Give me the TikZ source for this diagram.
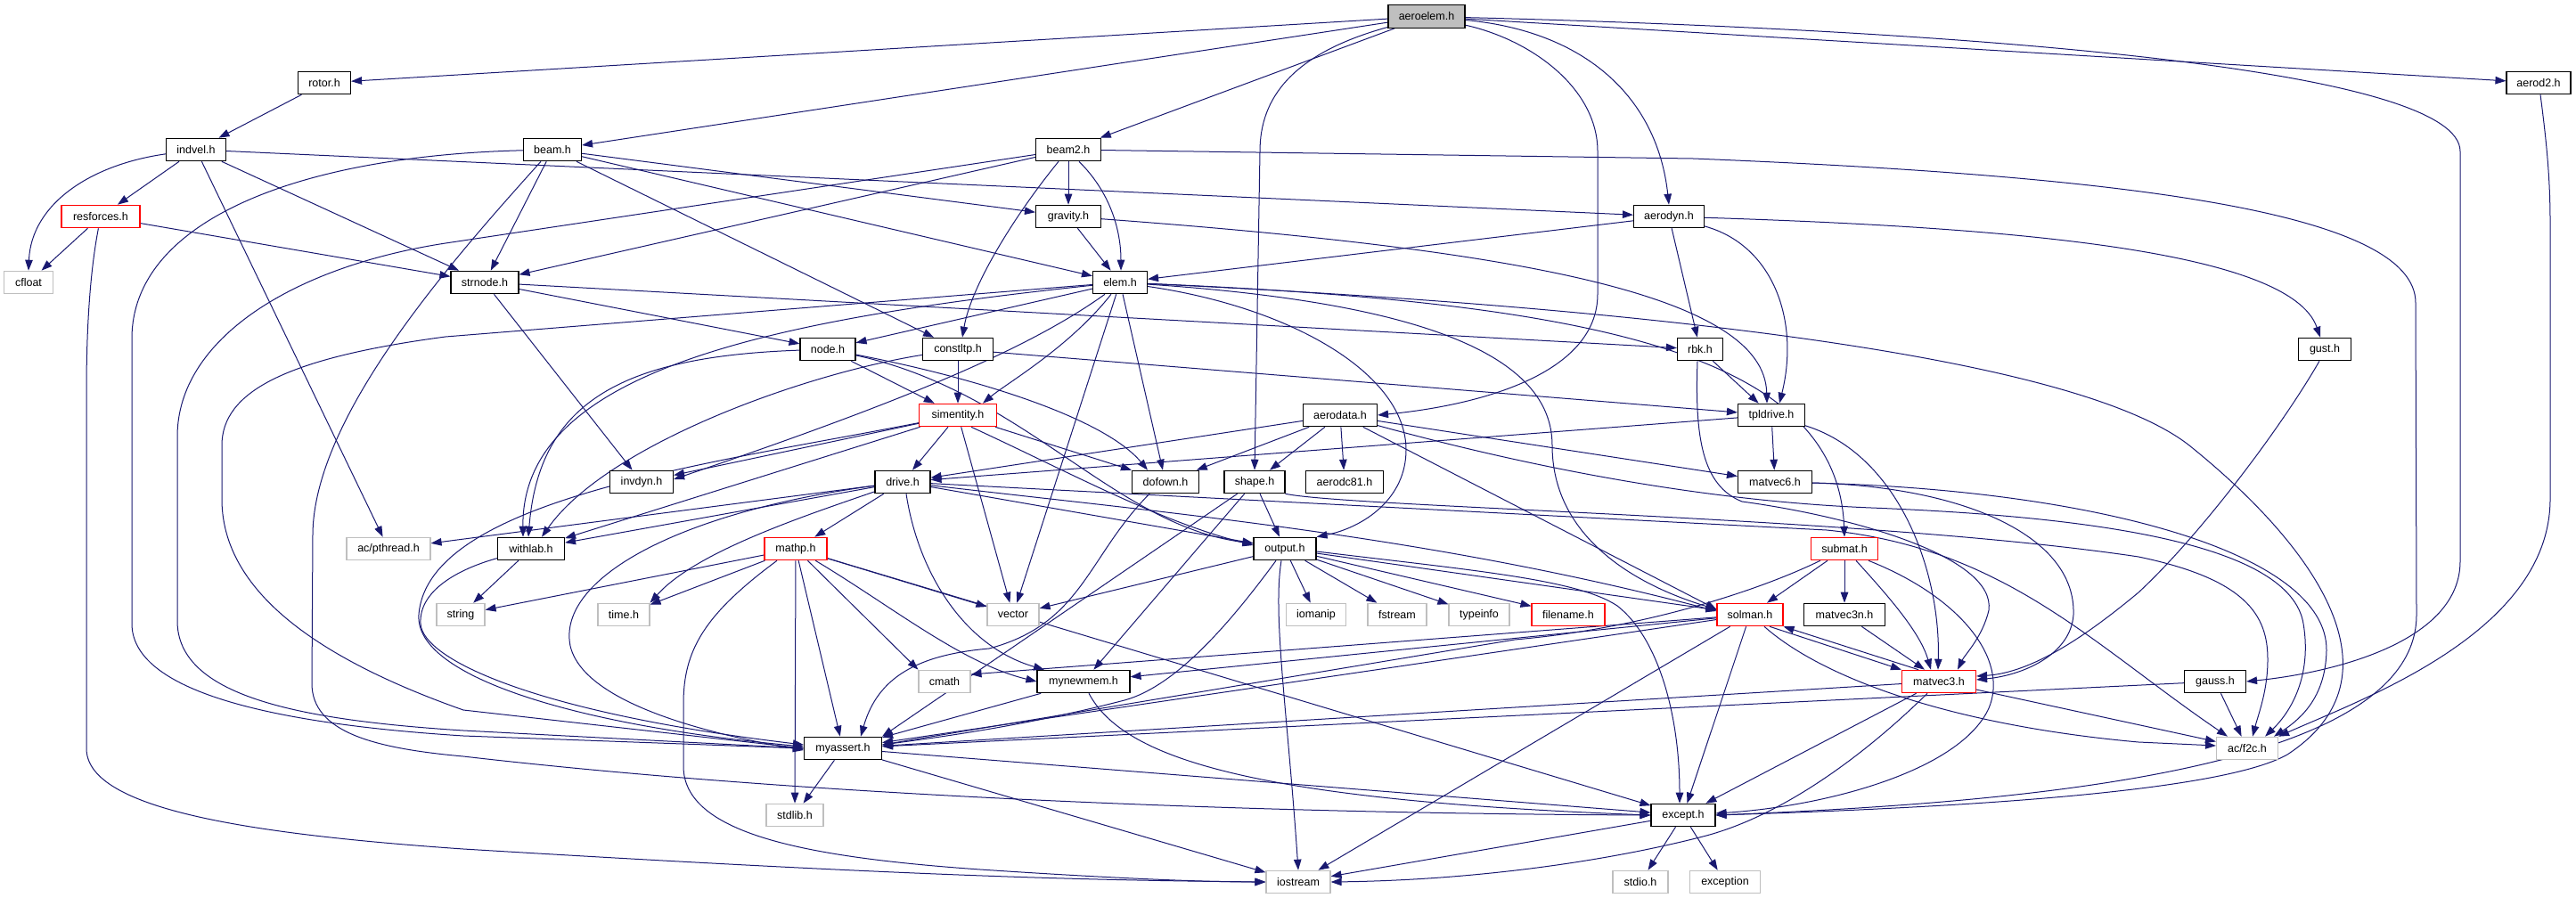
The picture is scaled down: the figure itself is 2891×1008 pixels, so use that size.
\documentclass[tikz,border=0pt]{standalone}
\usepackage{fontspec}
\setmainfont{Liberation Sans}
\usetikzlibrary{arrows.meta}
\definecolor{edgec}{RGB}{25,25,112}
\definecolor{greyb}{RGB}{191,191,191}
\definecolor{redb}{RGB}{255,0,0}
\pgfdeclarelayer{bg}
\pgfsetlayers{bg,main}
\tikzset{
  box/.style={draw=black, line width=1.1pt, minimum height=25.5pt, inner sep=0pt, fill=white, font=\fontsize{12.5}{14}\selectfont},
  gbox/.style={box, draw=greyb},
  rbox/.style={box, draw=redb},
  edg/.style={draw=edgec, line width=1pt, -{Triangle[length=12pt,width=8.5pt]}},
}
\begin{document}
\begin{tikzpicture}[x=1pt,y=-1pt]
\useasboundingbox (0,0) rectangle (2891,1008);
% nodes
\node[box, fill=greyb, minimum width=86pt] (aeroelem) at (1601,18.5) {aeroelem.h};
\node[box, minimum width=59pt] (rotor) at (364,93) {rotor.h};
\node[box, minimum width=72pt] (aerod2) at (2849,93) {aerod2.h};
\node[box, minimum width=67pt] (indvel) at (220,168) {indvel.h};
\node[box, minimum width=65pt] (beam) at (620,168) {beam.h};
\node[box, minimum width=73pt] (beam2) at (1199,168) {beam2.h};
\node[rbox, minimum width=88pt] (resforces) at (113,243) {resforces.h};
\node[box, minimum width=73pt] (gravity) at (1199,243) {gravity.h};
\node[box, minimum width=79pt] (aerodyn) at (1873,243) {aerodyn.h};
\node[gbox, minimum width=55pt] (cfloat) at (32,317) {cfloat};
\node[box, minimum width=76pt] (strnode) at (544,317) {strnode.h};
\node[box, minimum width=61pt] (elem) at (1257,317) {elem.h};
\node[box, minimum width=59pt] (gust) at (2609,392) {gust.h};
\node[box, minimum width=62pt] (node) at (929,392) {node.h};
\node[box, minimum width=79pt] (constltp) at (1075,392) {constltp.h};
\node[box, minimum width=51pt] (rbk) at (1908,392) {rbk.h};
\node[rbox, minimum width=87pt] (simentity) at (1075,466) {simentity.h};
\node[box, minimum width=83pt] (aerodata) at (1504,466) {aerodata.h};
\node[box, minimum width=75pt] (tpldrive) at (1988,466) {tpldrive.h};
\node[box, minimum width=71pt] (invdyn) at (720,541) {invdyn.h};
\node[box, minimum width=62pt] (drive) at (1013,541) {drive.h};
\node[box, minimum width=75pt] (dofown) at (1308,541) {dofown.h};
\node[box, minimum width=68pt] (shape) at (1408,541) {shape.h};
\node[box, minimum width=87pt] (aerodc81) at (1509,541) {aerodc81.h};
\node[box, minimum width=83pt] (matvec6) at (1992,541) {matvec6.h};
\node[box, minimum width=75pt] (withlab) at (596,616) {withlab.h};
\node[gbox, minimum width=94pt] (pthread) at (436,616) {ac/pthread.h};
\node[rbox, minimum width=70pt] (mathp) at (893,616) {mathp.h};
\node[box, minimum width=70pt] (output) at (1442,616) {output.h};
\node[rbox, minimum width=75pt] (submat) at (2070,616) {submat.h};
\node[gbox, minimum width=54pt] (string) at (517,690) {string};
\node[gbox, minimum width=58pt] (time) at (700,690) {time.h};
\node[gbox, minimum width=58pt] (vector) at (1137,690) {vector};
\node[gbox, minimum width=67pt] (iomanip) at (1477,690) {iomanip};
\node[gbox, minimum width=66pt] (fstream) at (1568,690) {fstream};
\node[gbox, minimum width=68pt] (typeinfo) at (1660,690) {typeinfo};
\node[rbox, minimum width=82pt] (filename) at (1760,690) {filename.h};
\node[rbox, minimum width=74pt] (solman) at (1964,690) {solman.h};
\node[box, minimum width=91pt] (matvec3n) at (2070,690) {matvec3n.h};
\node[gbox, minimum width=58pt] (cmath) at (1060,765) {cmath};
\node[box, minimum width=104pt] (mynewmem) at (1216,765) {mynewmem.h};
\node[rbox, minimum width=83pt] (matvec3) at (2176,765) {matvec3.h};
\node[box, minimum width=69pt] (gauss) at (2486,765) {gauss.h};
\node[box, minimum width=87pt] (myassert) at (946,840) {myassert.h};
\node[gbox, minimum width=69pt] (acf2c) at (2522,840) {ac/f2c.h};
\node[gbox, minimum width=64pt] (stdlib) at (892,915) {stdlib.h};
\node[box, minimum width=72pt] (except) at (1889,915) {except.h};
\node[gbox, minimum width=72pt] (iostream) at (1457,990) {iostream};
\node[gbox, minimum width=62pt] (stdio) at (1841,990) {stdio.h};
\node[gbox, minimum width=79pt] (exception) at (1936,990) {exception};

\begin{pgfonlayer}{bg}
% aeroelem
\draw[edg] (aeroelem) -- (rotor);
\draw[edg] (aeroelem) -- (beam);
\draw[edg] (aeroelem) -- (beam2);
\draw[edg] (aeroelem) .. controls (1450,60) and (1414,110) .. (1414,170) -- (shape.north);
\draw[edg] (aeroelem) .. controls (1720,45) and (1793,100) .. (1793,170) -- (1793,330) .. controls (1793,420) and (1660,455) .. (aerodata.east);
\draw[edg] (aeroelem) .. controls (1780,35) and (1860,110) .. (aerodyn.north);
\draw[edg] (aeroelem) -- (aerod2);
\draw[edg] (aeroelem) .. controls (2250,35) and (2761,80) .. (2761,170) -- (2761,630) .. controls (2761,720) and (2620,755) .. (gauss.east);
% rotor, indvel, resforces
\draw[edg] (rotor) -- (indvel);
\draw[edg] (indvel) -- (resforces);
\draw[edg] (indvel) .. controls (100,185) and (35,230) .. (cfloat.north);
\draw[edg] (indvel) -- (pthread);
\draw[edg] (indvel) -- (strnode);
\draw[edg] (indvel) -- (aerodyn);
\draw[edg] (resforces) -- (cfloat);
\draw[edg] (resforces) -- (strnode);
\draw[edg] (resforces) .. controls (102,300) and (97,360) .. (97,440) -- (97,840) .. controls (97,905) and (260,935) .. (520,953) .. controls (1000,982) and (1200,988) .. (iostream.west);
% beam
\draw[edg] (beam) -- (strnode);
\draw[edg] (beam) -- (gravity);
\draw[edg] (beam) -- (elem);
\draw[edg] (beam) -- (constltp);
\draw[edg] (beam) .. controls (330,175) and (148,250) .. (148,380) -- (148,700) .. controls (148,775) and (300,812) .. (520,826) -- (myassert.west);
\draw[edg] ([xshift=-13pt]beam.south) .. controls (500,300) and (352,470) .. (351,600) -- (350,767) .. controls (350,822) and (420,840) .. (520,849) .. controls (900,893) and (1400,913) .. (except.west);
% beam2
\draw[edg] (beam2) -- (gravity);
\draw[edg] ([xshift=12pt]beam2.south) .. controls (1250,220) and (1258,265) .. ([xshift=1pt]elem.north);
\draw[edg] ([xshift=-11pt]beam2.south) .. controls (1140,240) and (1090,320) .. ([xshift=5pt]constltp.north);
\draw[edg] (beam2) -- (strnode);
\draw[edg] (beam2) -- (500,273) .. controls (330,299) and (199,380) .. (199,490) -- (199,697) .. controls (199,780) and (330,808) .. (520,820) -- (myassert.west);
\draw[edg] (beam2) -- (1900,178) .. controls (2400,198) and (2711,240) .. (2711,340) -- (2712,690) .. controls (2712,860) and (2300,900) .. (except.east);
% gravity, aerodyn
\draw[edg] (gravity) -- (elem);
\draw[edg] (gravity) .. controls (1700,280) and (1980,330) .. ([xshift=-5pt]tpldrive.north);
\draw[edg] (aerodyn) -- (elem);
\draw[edg] (aerodyn) -- (rbk);
\draw[edg] (aerodyn) .. controls (1990,275) and (2020,360) .. ([xshift=9pt]tpldrive.north);
\draw[edg] (aerodyn) .. controls (2250,255) and (2570,280) .. ([xshift=-5pt]gust.north);
% strnode
\draw[edg] (strnode) -- (node);
\draw[edg] (strnode) -- (rbk);
\draw[edg] (strnode) -- (invdyn);
% elem
\draw[edg] (elem) -- (500,378) .. controls (320,402) and (249,440) .. (249,500) -- (249,560) .. controls (249,650) and (330,730) .. (520,797) -- (myassert.west);
\draw[edg] (elem) .. controls (850,360) and (585,420) .. ([xshift=-9pt]withlab.north);
\draw[edg] (elem) -- (node);
\draw[edg] ([xshift=-17pt]elem.south) .. controls (1150,395) and (1000,455) .. ([yshift=3pt]invdyn.east);
\draw[edg] ([xshift=-10pt]elem.south) .. controls (1200,390) and (1130,430) .. ([xshift=28pt]simentity.north);
\draw[edg] (elem) -- (vector);
\draw[edg] (elem) -- (dofown);
\draw[edg] (elem) .. controls (1450,345) and (1578,420) .. (1578,505) .. controls (1578,560) and (1530,592) .. (output.north east);
\draw[edg] (elem) .. controls (1800,340) and (2062,400) .. (submat.north);
\draw[edg] (elem) .. controls (1600,340) and (1742,400) .. (1742,500) .. controls (1742,600) and (1830,655) .. ([yshift=6pt]solman.west);
\draw[edg] (elem) .. controls (1850,345) and (2330,400) .. (2457,500) .. controls (2600,615) and (2700,760) .. (2567,847) .. controls (2500,885) and (2250,905) .. (except.east);
% node
\draw[edg] (node) .. controls (700,400) and (605,450) .. ([xshift=-3pt]withlab.north);
\draw[edg] (node) -- (simentity);
\draw[edg] (node) .. controls (1100,425) and (1240,470) .. ([xshift=-20pt]dofown.north);
\draw[edg] (node) .. controls (1150,440) and (1250,590) .. ([yshift=6pt]output.west);
% simentity
\draw[edg] (simentity) -- (drive);
\draw[edg] (simentity) -- (vector);
\draw[edg] ([xshift=15pt]simentity.south) .. controls (1200,530) and (1300,585) .. ([yshift=4pt]output.west);
\draw[edg] (simentity) -- (dofown.north west);
\draw[edg] (simentity) -- (invdyn);
\draw[edg] (simentity) -- (withlab);
\draw[edg] (simentity) .. controls (800,520) and (480,560) .. (470,690) .. controls (465,760) and (650,815) .. ([yshift=2pt]myassert.west);
% constltp
\draw[edg] (constltp) -- (simentity);
\draw[edg] (constltp) -- (tpldrive);
\draw[edg] (constltp) .. controls (900,420) and (680,500) .. ([xshift=12pt]withlab.north);
% drive
\draw[edg] (drive) -- (pthread);
\draw[edg] (drive) -- (withlab);
\draw[edg] (drive) -- (mathp);
\draw[edg] (drive) .. controls (900,580) and (780,620) .. (time.north east);
\draw[edg] (drive) -- (output);
\draw[edg] (drive) .. controls (1300,575) and (1600,600) .. ([yshift=4pt]solman.west);
\draw[edg] (drive) .. controls (760,575) and (625,650) .. (640,725) .. controls (655,790) and (800,825) .. ([yshift=-2pt]myassert.west);
\draw[edg] ([xshift=4pt]drive.south) .. controls (1030,640) and (1080,725) .. ([xshift=-44pt]mynewmem.north);
\draw[edg] (drive) -- (2050,595) .. controls (2250,615) and (2350,725) .. ([xshift=-22pt]acf2c.north);
% mathp
\draw[edg] (mathp) -- (string);
\draw[edg] (mathp) -- (time);
\draw[edg] (mathp) -- (vector);
\draw[edg] (mathp) -- (cmath.north west);
\draw[edg] (mathp) .. controls (1000,680) and (1080,745) .. (mynewmem.west);
\draw[edg] (mathp) -- (myassert);
\draw[edg] (mathp) -- (stdlib);
\draw[edg] ([xshift=-21pt]mathp.south) .. controls (790,690) and (767,730) .. (767,790) -- (767,860) .. controls (767,935) and (900,962) .. (1100,976) .. controls (1250,986) and (1350,990) .. (iostream.west);
\draw[edg] (mathp) -- (except);
% output
\draw[edg] (output) -- (vector);
\draw[edg] (output) -- (iomanip);
\draw[edg] (output) -- (fstream);
\draw[edg] (output) -- (typeinfo);
\draw[edg] (output) -- (filename);
\draw[edg] (output) -- (solman);
\draw[edg] ([xshift=-10pt]output.south) .. controls (1380,700) and (1320,770) .. (1262,786) .. controls (1150,815) and (1050,828) .. ([yshift=4pt]myassert.east);
\draw[edg] ([xshift=-4pt]output.south) .. controls (1428,690) and (1445,800) .. (iostream.north);
\draw[edg] ([yshift=-3pt]output.east) .. controls (1650,640) and (1770,650) .. (1815,680) .. controls (1860,715) and (1885,800) .. ([xshift=-4pt]except.north);
% dofown
\draw[edg] ([xshift=-18pt]dofown.south) .. controls (1220,625) and (1215,700) .. (1110,728) .. controls (1030,735) and (985,760) .. ([xshift=20pt]myassert.north);
% shape
\draw[edg] (shape) -- (output);
\draw[edg] (shape) -- (myassert.north east);
\draw[edg] (shape) -- (mynewmem);
\draw[edg] (shape.south east) .. controls (1520,570) and (2100,580) .. (2400,625) .. controls (2520,650) and (2545,690) .. (2545,740) .. controls (2545,775) and (2535,800) .. ([xshift=6pt]acf2c.north);
% aerodata
\draw[edg] (aerodata) -- (drive);
\draw[edg] (aerodata) -- (dofown);
\draw[edg] (aerodata) -- (shape);
\draw[edg] (aerodata) -- (aerodc81);
\draw[edg] (aerodata) -- ([yshift=6pt]solman.west);
\draw[edg] (aerodata) -- (matvec6);
\draw[edg] (aerodata) .. controls (1700,520) and (1900,562) .. (2100,570) .. controls (2350,580) and (2570,610) .. (2585,700) .. controls (2595,760) and (2570,800) .. ([xshift=20pt]acf2c.north);
% tpldrive
\draw[edg] (tpldrive) -- (drive);
\draw[edg] (tpldrive) -- (matvec6);
\draw[edg] (tpldrive) .. controls (2130,510) and (2178,640) .. ([xshift=-1pt]matvec3.north);
% rbk
\draw[edg] (rbk) -- (tpldrive);
\draw[edg] ([xshift=-3pt]rbk.south) .. controls (1902,490) and (1910,545) .. (1955,563) .. controls (2080,580) and (2240,625) .. (2232,685) .. controls (2225,715) and (2205,735) .. ([xshift=21pt]matvec3.north);
% gust
\draw[edg] ([xshift=-6pt]gust.south) .. controls (2560,480) and (2470,600) .. (2400,665) .. controls (2340,715) and (2280,755) .. ([yshift=6pt]matvec3.east);
% matvec6
\draw[edg] (matvec6) .. controls (2200,546) and (2330,600) .. (2327,690) .. controls (2324,735) and (2270,758) .. ([yshift=2pt]matvec3.east);
\draw[edg] (matvec6) .. controls (2350,550) and (2612,620) .. (2611,730) .. controls (2610,780) and (2585,805) .. ([xshift=30pt]acf2c.north);
% withlab
\draw[edg] (withlab) -- (string);
\draw[edg] (withlab) .. controls (510,640) and (470,665) .. (472,700) .. controls (474,740) and (600,800) .. ([yshift=4pt]myassert.west);
% submat
\draw[edg] (submat) -- (solman);
\draw[edg] (submat) -- (matvec3n);
\draw[edg] ([xshift=13pt]submat.south) .. controls (2120,670) and (2155,710) .. ([xshift=-9pt]matvec3.north);
\draw[edg] (submat) .. controls (1980,660) and (1850,705) .. (1700,718) -- ([yshift=4pt]myassert.east);
\draw[edg] ([xshift=27pt]submat.south) .. controls (2200,670) and (2255,740) .. (2232,795) .. controls (2200,865) and (2050,905) .. ([yshift=2pt]except.east);
% solman
\draw[edg] (solman) -- (myassert);
\draw[edg] (solman) -- (mynewmem);
\draw[edg] (solman) -- ([yshift=8pt]cmath.east);
\draw[edg] (solman) -- (iostream);
\draw[edg] (solman) -- (except);
\draw[edg] ([xshift=22pt]solman.south) -- (matvec3.north west);
\draw[edg] ([xshift=16pt]solman.south) .. controls (2050,765) and (2200,815) .. (2400,833) -- ([yshift=3pt]acf2c.west);
% matvec3
\draw[edg] ([xshift=-23pt]matvec3.north) -- (solman.south east);
\draw[edg] (matvec3) -- (myassert);
\draw[edg] (matvec3) -- (except);
\draw[edg] ([xshift=-13pt]matvec3.south) .. controls (2090,850) and (2000,915) .. (1915,938) .. controls (1800,968) and (1650,988) .. (iostream.east);
\draw[edg] (matvec3) -- (acf2c);
\draw[edg] (matvec3n) -- ([xshift=-16pt]matvec3.north);
% mynewmem
\draw[edg] (mynewmem) -- (myassert);
\draw[edg] ([xshift=6pt]mynewmem.south) .. controls (1260,850) and (1400,898) .. (except.west);
% gauss, aerod2
\draw[edg] (gauss) -- (myassert);
\draw[edg] (gauss) -- (acf2c);
\draw[edg] ([xshift=2pt]aerod2.south) .. controls (2858,160) and (2862,200) .. (2862,250) -- (2862,560) .. controls (2862,710) and (2650,785) .. (acf2c.north east);
% myassert, except
\draw[edg] (myassert) -- (stdlib);
\draw[edg] (myassert) -- (iostream);
\draw[edg] (myassert) -- (except);
\draw[edg] (except) -- (stdio);
\draw[edg] (except) -- (exception);
\draw[edg] (except) -- (iostream);
\end{pgfonlayer}
\end{tikzpicture}
\end{document}
